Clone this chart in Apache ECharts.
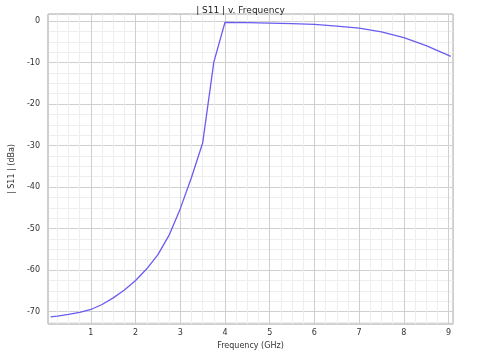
<!DOCTYPE html>
<html>
<head>
<meta charset="utf-8">
<script src="https://cdn.jsdelivr.net/npm/echarts@6/dist/echarts.min.js"></script>
<style>html,body{margin:0;padding:0;background:#fff;}#c{width:481px;height:356px;}</style>
</head>
<body>
<div id="c"></div>
<script>
var freqGHz = [0.1, 0.25, 0.5, 0.75, 1.0, 1.25, 1.5, 1.75, 2.0, 2.25, 2.5, 2.75, 3.0, 3.25, 3.5, 3.75, 4.0, 4.5, 5.0, 5.5, 6.0, 6.5, 7.0, 7.5, 8.0, 8.5, 9.05];
var s11dB   = [-71.3, -71.1, -70.7, -70.2, -69.5, -68.3, -66.7, -64.8, -62.5, -59.7, -56.3, -51.6, -45.2, -37.7, -29.4, -9.9, -0.3, -0.4, -0.5, -0.6, -0.8, -1.2, -1.7, -2.6, -4.0, -5.9, -8.5];
var xTickLabels = ['1','2','3','4','5','6','7','8','9'];
var yTickLabels = ['0','-10','-20','-30','-40','-50','-60','-70'];

var pts = freqGHz.map(function(f, i){ return [f, s11dB[i]]; });
var chart = echarts.init(document.getElementById('c'), null, {renderer:'canvas'});
var font = 'DejaVu Sans';
chart.setOption({
  backgroundColor: '#ffffff',
  animation: false,
  title: {
    text: '| S11 | v. Frequency', left: 'center', top: 1,
    textStyle: {fontFamily: font, fontSize: 9, fontWeight: 'normal', color: '#222'}
  },
  grid: {left: 37, right: 28, top: 14, bottom: 32, show: true, borderColor: '#a8a8a8', borderWidth: 1, backgroundColor: '#fff'},
  xAxis: {
    type: 'value', min: 0.04, max: 9.1, splitNumber: 10,
    name: 'Frequency (GHz)', nameLocation: 'middle', nameGap: 18,
    nameTextStyle: {fontFamily: font, fontSize: 8, color: '#333'},
    axisLine: {show: false}, axisTick: {show: false},
    axisLabel: {fontFamily: font, fontSize: 8, color: '#333', margin: 5,
      showMinLabel: false, showMaxLabel: false,
      formatter: function(v){ var s = String(Math.round(v)); return (Math.abs(v - Math.round(v)) < 1e-6 && xTickLabels.indexOf(s) >= 0) ? s : ''; }},
    splitLine: {show: true, lineStyle: {color: '#cfcfcf', width: 1}},
    minorTick: {show: false, splitNumber: 4},
    minorSplitLine: {show: true, lineStyle: {color: '#eeeeee', width: 1}}
  },
  yAxis: {
    type: 'value', min: -73, max: 1.7,
    name: '| S11 | (dBa)', nameLocation: 'middle', nameGap: 24, nameRotate: 90,
    nameTextStyle: {fontFamily: font, fontSize: 8, color: '#333'},
    axisLine: {show: false}, axisTick: {show: false},
    axisLabel: {fontFamily: font, fontSize: 8, color: '#333', margin: 8,
      showMinLabel: false, showMaxLabel: false,
      formatter: function(v){ var s = String(Math.round(v)); return (Math.abs(v - Math.round(v)) < 1e-6 && yTickLabels.indexOf(s) >= 0) ? s : ''; }},
    splitLine: {show: true, lineStyle: {color: '#cfcfcf', width: 1}},
    minorTick: {show: false, splitNumber: 4},
    minorSplitLine: {show: true, lineStyle: {color: '#eeeeee', width: 1}}
  },
  series: [{
    type: 'line', data: pts, showSymbol: false, smooth: false,
    lineStyle: {color: '#6a5cf0', width: 1.3}
  }]
});
</script>
</body>
</html>
